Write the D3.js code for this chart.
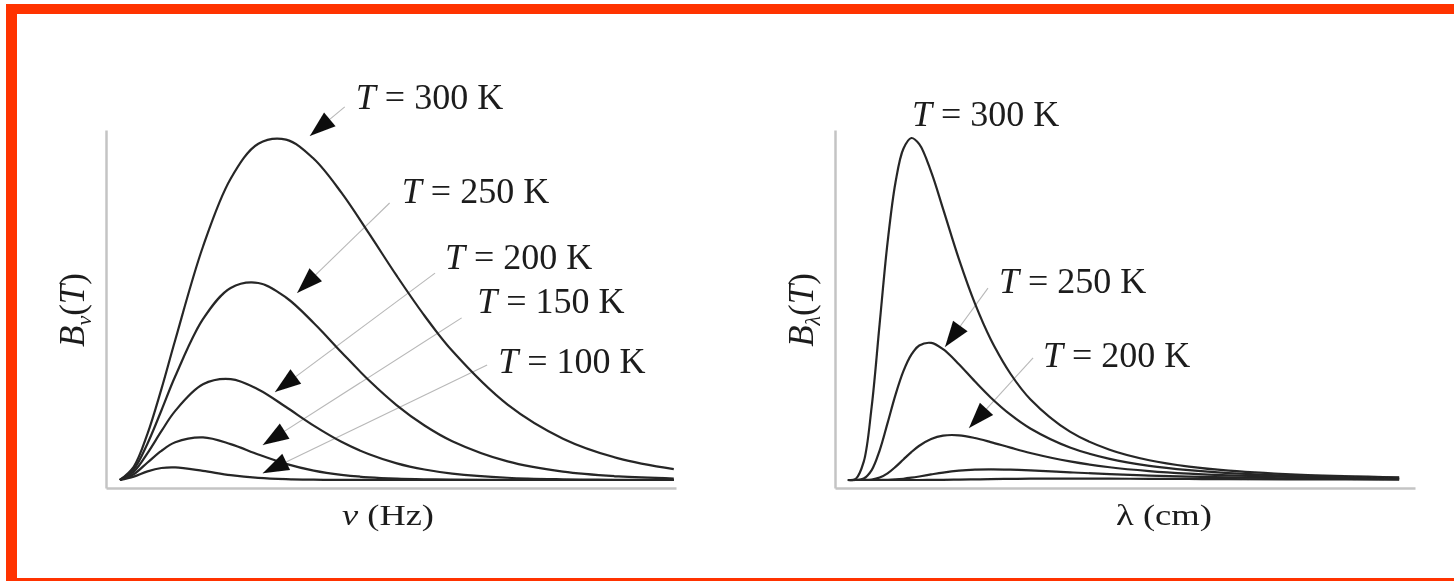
<!DOCTYPE html>
<html>
<head>
<meta charset="utf-8">
<script src="https://cdn.jsdelivr.net/npm/d3@7"></script>
<style>
  body { margin: 0; background: #fff; }
  svg { display: block; }
  text { font-family: "Liberation Serif", "Times New Roman", serif; fill: #1c1c1c; }
  .axis path { stroke: #c4c4c4; stroke-width: 2.5; }
</style>
</head>
<body>
<svg id="chart" width="1454" height="581"></svg>
<script>
// values, arbitrary units (peak of the 300 K curve = 1)
var temps = [300, 250, 200, 150, 100];

// left panel: B_nu(T) against nu
var nu = [0, 0.25, 0.5, 0.75, 1, 1.5, 2, 2.5, 3, 3.5, 4, 4.5, 5, 5.5, 6, 7, 8, 9, 10];
var bNu300 = [0, 0.0387, 0.1356, 0.2657, 0.4094, 0.6820, 0.8809, 0.9831, 0.9953, 0.9392, 0.8401, 0.7202, 0.5966, 0.4803, 0.3776, 0.2203, 0.1209, 0.0633, 0.0319];
var bNu250 = [0, 0.0314, 0.1070, 0.2033, 0.3032, 0.4702, 0.5615, 0.5760, 0.5336, 0.4592, 0.3736, 0.2909, 0.2185, 0.1594, 0.1135, 0.0543, 0.0244, 0.0105, 0.0043];
var bNu200 = [0, 0.0242, 0.0787, 0.1427, 0.2021, 0.2797, 0.2949, 0.2648, 0.2134, 0.1591, 0.1119, 0.0752, 0.0487, 0.0306, 0.0188, 0.0066, 0.0022, 0.0007, 0.0002];
var bNu150 = [0, 0.0169, 0.0512, 0.0853, 0.1101, 0.1244, 0.1050, 0.0746, 0.0472, 0.0275, 0.0151, 0.0079, 0.0040, 0.0020, 0.0009, 0.0002, 0, 0, 0];
var bNu100 = [0, 0.0098, 0.0253, 0.0350, 0.0369, 0.0267, 0.0140, 0.0061, 0.0023, 0.0008, 0.0003, 0.0001, 0, 0, 0, 0, 0, 0, 0];

// right panel: B_lambda(T) against lambda
var lam = [0.04, 0.06, 0.08, 0.10, 0.12, 0.14, 0.16, 0.18, 0.20, 0.22, 0.25, 0.28, 0.32, 0.36, 0.40, 0.45, 0.50, 0.60, 0.70, 0.80, 0.90, 1.00, 1.20, 1.43];
var bLam300 = [0, 0.0035, 0.0536, 0.2142, 0.4558, 0.6938, 0.8701, 0.9687, 1.0000, 0.9820, 0.9012, 0.7929, 0.6460, 0.5172, 0.4119, 0.3107, 0.2363, 0.1413, 0.0885, 0.0578, 0.0392, 0.0275, 0.0146, 0.0078];
var bLam250 = [0, 0.0001, 0.0044, 0.0290, 0.0861, 0.1662, 0.2490, 0.3181, 0.3663, 0.3932, 0.4008, 0.3825, 0.3386, 0.2886, 0.2414, 0.1909, 0.1506, 0.0949, 0.0617, 0.0413, 0.0286, 0.0203, 0.0110, 0.0060];
var bLam200 = [0, 0, 0.0001, 0.0014, 0.0071, 0.0195, 0.0382, 0.0600, 0.0816, 0.1002, 0.1200, 0.1298, 0.1307, 0.1228, 0.1109, 0.0946, 0.0791, 0.0543, 0.0373, 0.0261, 0.0186, 0.0135, 0.0076, 0.0043];
var bLam150 = [0, 0, 0, 0, 0.0001, 0.0005, 0.0017, 0.0037, 0.0067, 0.0103, 0.0162, 0.0217, 0.0272, 0.0303, 0.0313, 0.0304, 0.0282, 0.0224, 0.0171, 0.0129, 0.0097, 0.0074, 0.0044, 0.0026];
var bLam100 = [0, 0, 0, 0, 0, 0, 0, 0, 0, 0, 0.0003, 0.0006, 0.0012, 0.0019, 0.0025, 0.0033, 0.0038, 0.0041, 0.0039, 0.0035, 0.0030, 0.0025, 0.0017, 0.0011];

var svg = d3.select("#chart");

// orange frame (right edge is cut off in the original)
var frame = "#ff3300";
svg.append("rect").attr("x", 6).attr("y", 4).attr("width", 1448).attr("height", 10).attr("fill", frame);
svg.append("rect").attr("x", 6).attr("y", 4).attr("width", 11).attr("height", 577).attr("fill", frame);
svg.append("rect").attr("x", 6).attr("y", 578).attr("width", 1448).attr("height", 3).attr("fill", frame);

svg.append("defs").append("filter").attr("id", "soft")
    .append("feGaussianBlur").attr("stdDeviation", 0.4);

function addTempLabel(sel, t) {
    sel.append("tspan").attr("font-style", "italic").text("T");
    sel.append("tspan").text(" = " + t + " K");
}

function arrowHead(tx, ty, sx, sy) {
    var dx = tx - sx, dy = ty - sy, len = Math.sqrt(dx * dx + dy * dy);
    dx /= len; dy /= len;
    var L = 26, hw = 9;
    var bx = tx - dx * L, by = ty - dy * L;
    return "M" + tx + "," + ty +
        "L" + (bx - dy * hw) + "," + (by + dx * hw) +
        "L" + (bx + dy * hw) + "," + (by - dx * hw) + "Z";
}

function drawPanel(cfg) {
    var g = svg.append("g").attr("filter", "url(#soft)");

    var x = d3.scaleLinear().domain(cfg.xDomain).range(cfg.xRange),
        y = d3.scaleLinear().domain([-0.0234, 1.0234]).range([488, 130]);

    g.append("g")
        .attr("class", "axis")
        .attr("transform", "translate(0,488)")
        .call(d3.axisBottom(x).tickValues([]).tickSizeOuter(0));

    g.append("g")
        .attr("class", "axis")
        .attr("transform", "translate(" + cfg.xRange[0] + ",0)")
        .call(d3.axisLeft(y).tickValues([]).tickSizeOuter(0));

    // leader lines
    g.selectAll(".leader")
        .data(cfg.notes.filter(function(d) { return d.tip; }))
        .enter()
        .append("line")
        .attr("class", "leader")
        .attr("x1", function(d) { return x(d.from[0]); })
        .attr("y1", function(d) { return y(d.from[1]); })
        .attr("x2", function(d) { return x(d.tip[0]); })
        .attr("y2", function(d) { return y(d.tip[1]); })
        .attr("stroke", "#b8b8b8")
        .attr("stroke-width", 1.1);

    var line = d3.line()
        .x(function(d, i) { return x(cfg.xs[i]); })
        .y(function(d) { return y(d); })
        .curve(d3.curveCatmullRom.alpha(0.5));

    g.selectAll(".curve")
        .data(cfg.series)
        .enter()
        .append("path")
        .attr("class", "curve")
        .attr("d", line)
        .attr("fill", "none")
        .attr("stroke", "#262626")
        .attr("stroke-width", 2.2);

    g.selectAll(".head")
        .data(cfg.notes.filter(function(d) { return d.tip; }))
        .enter()
        .append("path")
        .attr("class", "head")
        .attr("d", function(d) {
            return arrowHead(x(d.tip[0]), y(d.tip[1]), x(d.from[0]), y(d.from[1]));
        })
        .attr("fill", "#111");

    g.selectAll(".note")
        .data(cfg.notes)
        .enter()
        .append("text")
        .attr("class", "note")
        .attr("x", function(d) { return x(d.at[0]); })
        .attr("y", function(d) { return y(d.at[1]); })
        .attr("font-size", 36)
        .each(function(d) { addTempLabel(d3.select(this), d.t); });

    // x axis title, stretched wide like the original
    var xt = g.append("text")
        .attr("text-anchor", "middle")
        .attr("font-size", 30);
    xt.append("tspan").attr("font-style", cfg.xItalic ? "italic" : "normal").text(cfg.xSym);
    xt.append("tspan").text(" (" + cfg.xUnit + ")");
    var w = xt.node().getComputedTextLength();
    xt.attr("transform", "translate(" + cfg.xTitle[0] + "," + cfg.xTitle[1] + ") scale(" + (cfg.xTitleWidth / w) + ",1)");

    // y axis title
    var yt = g.append("text")
        .attr("text-anchor", "middle")
        .attr("font-size", 35)
        .attr("transform", "translate(" + cfg.yTitle[0] + "," + cfg.yTitle[1] + ") rotate(-90)");
    yt.append("tspan").attr("font-style", "italic").text("B");
    yt.append("tspan").attr("font-style", "italic").attr("font-size", 22).attr("dy", 7).text(cfg.ySub);
    yt.append("tspan").attr("dy", -7).text("(");
    yt.append("tspan").attr("font-style", "italic").text("T");
    yt.append("tspan").text(")");
}

drawPanel({
    xs: nu,
    series: [bNu300, bNu250, bNu200, bNu150, bNu100],
    xDomain: [-0.25, 10.04],
    xRange: [106, 676],
    xSym: "\u03bd", xItalic: true, xUnit: "Hz",
    xTitle: [388, 525], xTitleWidth: 92,
    ySub: "\u03bd",
    yTitle: [84, 310],
    notes: [
        { t: temps[0], at: [4.26, 1.085], from: [4.06, 1.091], tip: [3.43, 1.006] },
        { t: temps[1], at: [5.09, 0.810], from: [4.87, 0.810], tip: [3.20, 0.547] },
        { t: temps[2], at: [5.87, 0.617], from: [5.69, 0.605], tip: [2.80, 0.257] },
        { t: temps[3], at: [6.45, 0.488], from: [6.17, 0.474], tip: [2.58, 0.102] },
        { t: temps[4], at: [6.83, 0.313], from: [6.63, 0.336], tip: [2.58, 0.020] }
    ]
});

drawPanel({
    xs: lam,
    series: [bLam300, bLam250, bLam200, bLam150, bLam100],
    xDomain: [0.0075, 1.47],
    xRange: [835, 1415],
    xSym: "\u03bb", xItalic: false, xUnit: "cm",
    xTitle: [1164, 525], xTitleWidth: 96,
    ySub: "\u03bb",
    yTitle: [813, 310],
    notes: [
        { t: temps[0], at: [0.2016, 1.035] },
        { t: temps[1], at: [0.421, 0.547], from: [0.3933, 0.561], tip: [0.2849, 0.389] },
        { t: temps[2], at: [0.532, 0.330], from: [0.507, 0.357], tip: [0.3454, 0.152] }
    ]
});
</script>
</body>
</html>
